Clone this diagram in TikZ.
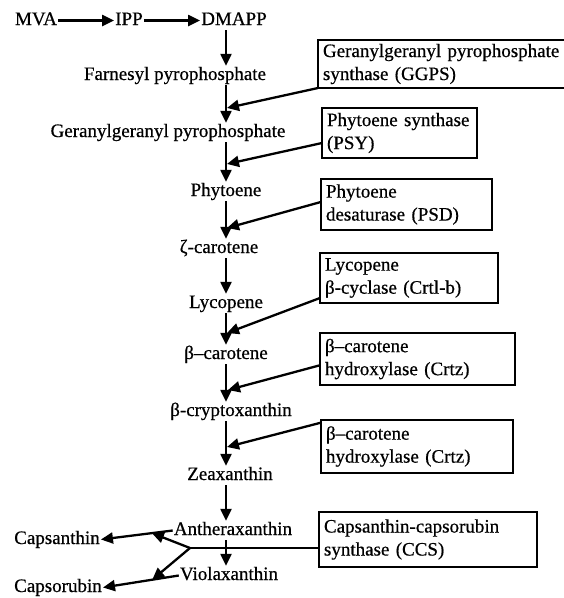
\documentclass[tikz,border=0pt]{standalone}
\usepackage{fontspec}
\setmainfont{Liberation Serif}[FakeBold=0.6]
\usetikzlibrary{arrows.meta,calc}
\begin{document}
\begin{tikzpicture}[x=1pt,y=-1pt,
  txt/.style={font=\fontsize{19}{23}\selectfont, inner sep=1pt, text height=13pt, text depth=4pt, anchor=base},
  enz/.style={draw, line width=2.6pt, font=\fontsize{19}{23}\selectfont, align=left, anchor=north west, inner ysep=0pt, inner xsep=5pt, outer sep=0pt},
  arr/.style={line width=2.3pt, -{Triangle[length=12pt,width=11pt]}},
  ln/.style={line width=2.3pt}]
\useasboundingbox (0,0) rectangle (564,598);
\coordinate (mx) at (226,0);
% pathway metabolites
\node[txt] (mva) at (36,25) {MVA};
\node[txt] (ipp) at (129,25) {IPP};
\node[txt] (dmapp) at (234,25) {DMAPP};
\node[txt] (farn) at (175,80) {Farnesyl pyrophosphate};
\node[txt] (gg) at (168,137) {Geranylgeranyl pyrophosphate};
\node[txt] (phyt) at (226,196) {Phytoene};
\node[txt] (zeta) at (219,253) {ζ-carotene};
\node[txt] (lyc) at (226,308) {Lycopene};
\node[txt] (bcar) at (226,359) {β–carotene};
\node[txt] (bcry) at (231,416) {β-cryptoxanthin};
\node[txt] (zea) at (230,480) {Zeaxanthin};
\node[txt] (anth) at (233,535) {Antheraxanthin};
\node[txt] (viol) at (229,580) {Violaxanthin};
\node[txt] (capsan) at (57,544) {Capsanthin};
\node[txt] (capsor) at (58,592) {Capsorubin};
% enzymes
\node[enz, minimum height=48pt, text width=240pt] (ggps) at (318,40) {Geranylgeranyl pyrophosphate\\synthase (GGPS)};
\node[enz, minimum height=50pt, text width=145pt] (psy) at (322,108) {Phytoene synthase\\(PSY)};
\node[enz, minimum height=51pt, text width=161pt] (psd) at (321,179) {Phytoene\\desaturase (PSD)};
\node[enz, minimum height=50pt, text width=168pt] (lcyb) at (320,253) {Lycopene\\β-cyclase (Crtl-b)};
\node[enz, minimum height=52pt, text width=185pt] (crtz1) at (320,333) {β–carotene\\hydroxylase (Crtz)};
\node[enz, minimum height=53pt, text width=182pt] (crtz2) at (321,420) {β–carotene\\hydroxylase (Crtz)};
\node[enz, minimum height=55pt, text width=208pt] (ccs) at (319,512) {Capsanthin-capsorubin\\synthase (CCS)};
% top row
\draw[arr] (mva.east) -- (ipp.west);
\draw[arr] (ipp.east) -- (dmapp.west);
% main column
\draw[arr] (dmapp.south -| mx) -- (farn.north -| mx);
\draw[arr] (farn.south -| mx) -- (gg.north -| mx);
\draw[arr] (gg.south -| mx) -- (phyt.north -| mx);
\draw[arr] (phyt.south -| mx) -- (zeta.north -| mx);
\draw[arr] (zeta.south -| mx) -- (lyc.north -| mx);
\draw[arr] (lyc.south -| mx) -- (bcar.north -| mx);
\draw[arr] (bcar.south -| mx) -- (bcry.north -| mx);
\draw[arr] (bcry.south -| mx) -- (zea.north -| mx);
\draw[arr] (zea.south -| mx) -- (anth.north -| mx);
\draw[arr] (anth.south -| mx) -- (viol.north -| mx);
% enzyme arrows
\coordinate (t1) at (227,108);
\coordinate (t2) at (227,164);
\coordinate (t3) at (227,228);
\coordinate (t4) at (227,333);
\coordinate (t5) at (228,390);
\coordinate (t6) at (227,447);
\draw[arr] (ggps.south west) -- (t1);
\draw[arr] ($(psy.north west)!0.7!(psy.south west)$) -- (t2);
\draw[arr] ($(psd.north west)!0.45!(psd.south west)$) -- (t3);
\draw[arr] ($(lcyb.north west)!0.9!(lcyb.south west)$) -- (t4);
\draw[arr] ($(crtz1.north west)!0.62!(crtz1.south west)$) -- (t5);
\draw[arr] ($(crtz2.north west)!0.05!(crtz2.south west)$) -- (t6);
% CCS branches
\draw[arr] (anth.west) -- (capsan.east);
\draw[arr] (viol.west) -- (capsor.east);
\coordinate (J) at (190,548);
\draw[ln] (ccs.west |- J) -- (J);
\draw[arr] (J) -- ($(anth.west)!0.29!(capsan.east)$);
\draw[arr] (J) -- ($(viol.west)!0.35!(capsor.east)$);
\end{tikzpicture}
\end{document}
